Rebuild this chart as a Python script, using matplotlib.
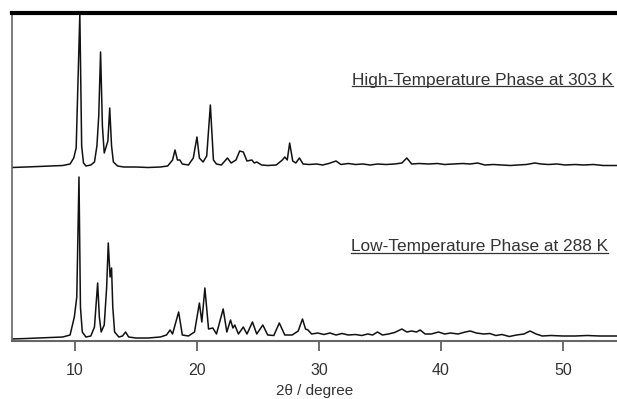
import numpy as np
import matplotlib.pyplot as plt

# 2theta / height above baseline
ht_2theta = [4.8, 6.0, 7.0, 8.0, 9.0, 9.6, 9.9, 10.1, 10.4, 10.55, 10.7, 10.9, 11.3, 11.6, 11.8,
             11.95, 12.1, 12.25, 12.4, 12.7, 12.85, 13.0, 13.15, 13.5, 14.0, 15.0, 16.0, 17.0,
             17.6, 18.0, 18.2, 18.4, 18.6, 18.8, 19.3, 19.7, 20.0, 20.2, 20.5, 20.8, 21.1,
             21.35, 21.6, 22.0, 22.5, 22.8, 23.2, 23.5, 23.8, 24.1, 24.5, 24.7, 24.9, 25.3,
             25.8, 26.5, 27.0, 27.2, 27.4, 27.6, 27.85, 28.1, 28.4, 28.7, 29.2, 29.8, 30.3,
             30.8, 31.4, 31.8, 32.4, 33.0, 33.6, 34.2, 34.8, 35.5, 36.2, 36.8, 37.2, 37.6,
             38.2, 39.0, 39.7, 40.3, 41.0, 41.8, 42.4, 43.0, 43.6, 44.3, 45.0, 45.7, 46.3,
             47.0, 47.7, 48.2, 48.8, 49.5, 50.2, 51.0, 51.7, 52.5, 53.3, 54.5]
ht_int = [-1.5, -1, -0.5, 0, 0.5, 2, 8, 18, 152, 20, 3, 0, 1, 4, 20,
          50, 114, 40, 13, 25, 58, 20, 4, 0, -1, -1, -1.5, -1,
          0, 6, 16, 6, 6, 2, 1, 8, 29, 8, 4, 10, 61,
          6, 2, 1, 8, 3, 6, 15, 14, 5, 6, 3, 4, 1,
          0.5, 1, 6, 9, 6, 23, 5, 3, 8, 2, 1.5, 2, 1,
          2.5, 5, 1.5, 2.5, 1.5, 2, 1, 2, 1.5, 2, 3, 8, 2,
          2.5, 2, 2.5, 1.5, 2, 2.5, 2, 3, 1, 1.5, 1, 0.5, 1,
          1.5, 3, 2, 1.5, 2, 1, 1.5, 1, 1.5, 0.5, 0.5]

lt_2theta = [4.8, 6.0, 7.0, 8.0, 9.0, 9.6, 9.95, 10.15, 10.33, 10.45, 10.6, 10.9, 11.3, 11.6,
             11.86, 12.0, 12.15, 12.4, 12.6, 12.73, 12.88, 13.0, 13.1, 13.25, 13.6, 13.9,
             14.15, 14.4, 15.0, 16.0, 17.0, 17.5, 17.8, 18.0, 18.5, 18.8, 19.3, 19.8, 20.2,
             20.4, 20.65, 20.95, 21.3, 21.6, 22.15, 22.45, 22.75, 22.95, 23.1, 23.4, 23.8,
             24.1, 24.55, 24.9, 25.4, 25.8, 26.3, 26.75, 27.2, 27.8, 28.3, 28.65, 28.9, 29.1,
             29.4, 29.9, 30.4, 30.9, 31.4, 31.9, 32.4, 33.0, 33.5, 34.0, 34.4, 34.8, 35.2,
             35.7, 36.2, 36.8, 37.2, 37.6, 38.0, 38.3, 38.7, 39.2, 39.8, 40.3, 40.8, 41.4,
             42.0, 42.4, 42.9, 43.5, 44.0, 44.5, 45.0, 45.6, 46.2, 46.8, 47.3, 47.8, 48.3,
             49.0, 50.0, 51.0, 52.0, 53.0, 54.5]
lt_int = [-2, -1.5, -1, -0.5, 0, 2, 20, 40, 160, 30, 5, 0, 1, 10,
          54, 20, 5, 12, 50, 94, 60, 69, 30, 5, 0, 1,
          5, 0, -1, -1, 0, 2, 7, 3, 25, 2, 1, 5, 34,
          15, 49, 8, 9, 3, 28, 5, 17, 9, 12, 3, 10,
          3, 15, 3, 12, 2, 1.5, 14, 2, 2, 6, 18, 8, 7,
          3, 4, 2.5, 4, 2, 3.5, 2, 2.5, 1.5, 3, 2, 5, 2,
          3, 4.5, 8, 5, 6, 5, 7, 3, 3, 5, 3, 4, 3,
          5, 6, 4, 3, 3.5, 1.5, 2.5, 0.5, 2, 3, 6, 3, 1,
          1.5, 1, 1, 1.5, 1, 1]

ht_offset = 175
lt_offset = 4
ht_label = 'High-Temperature Phase at 303 K'
lt_label = 'Low-Temperature Phase at 288 K'
xticks = [10, 20, 30, 40, 50]

fig = plt.figure(figsize=(6.17, 3.99), dpi=100)
ax = fig.add_axes([12/617, 58/399, 605/617, 328/399])

ax.plot(ht_2theta, np.array(ht_int) + ht_offset, color='#111111', lw=1.1)
ax.plot(lt_2theta, np.array(lt_int) + lt_offset, color='#111111', lw=1.1)

ax.set_xlim(4.84, 54.43)
ax.set_ylim(0, 328)
ax.set_yticks([])
ax.set_xticks(xticks)
ax.tick_params(axis='x', direction='out', length=7, width=1.2, color='#555555',
               labelsize=11.5, labelcolor='#333333', pad=9)
for lab in ax.get_xticklabels():
    lab.set_fontfamily('Liberation Sans')
ax.set_xlabel('2θ / degree', fontsize=11, color='#333333', family='Liberation Sans', labelpad=4)

ax.spines['right'].set_visible(False)
ax.spines['top'].set_linewidth(3)
ax.spines['top'].set_color('black')
ax.spines['left'].set_color('#666666')
ax.spines['left'].set_linewidth(1.2)
ax.spines['bottom'].set_color('#666666')
ax.spines['bottom'].set_linewidth(1.5)

t1 = ax.text((613 - 12) / 605, (341 - 80) / 328, ht_label, transform=ax.transAxes,
             ha='right', va='center', fontsize=12.4, color='#333333', family='Liberation Sans')
t2 = ax.text((608 - 12) / 605, (341 - 247) / 328, lt_label, transform=ax.transAxes,
             ha='right', va='center', fontsize=12.4, color='#333333', family='Liberation Sans')

# underline the labels
fig.canvas.draw()
inv = ax.transAxes.inverted()
for t in (t1, t2):
    bb = t.get_window_extent()
    (x0, y0), (x1, y1) = inv.transform([[bb.x0, bb.y0], [bb.x1, bb.y1]])
    ax.plot([x0, x1], [y0 + 0.006, y0 + 0.006], transform=ax.transAxes, color='#333333', lw=0.9)

plt.savefig('out.png', dpi=100)
